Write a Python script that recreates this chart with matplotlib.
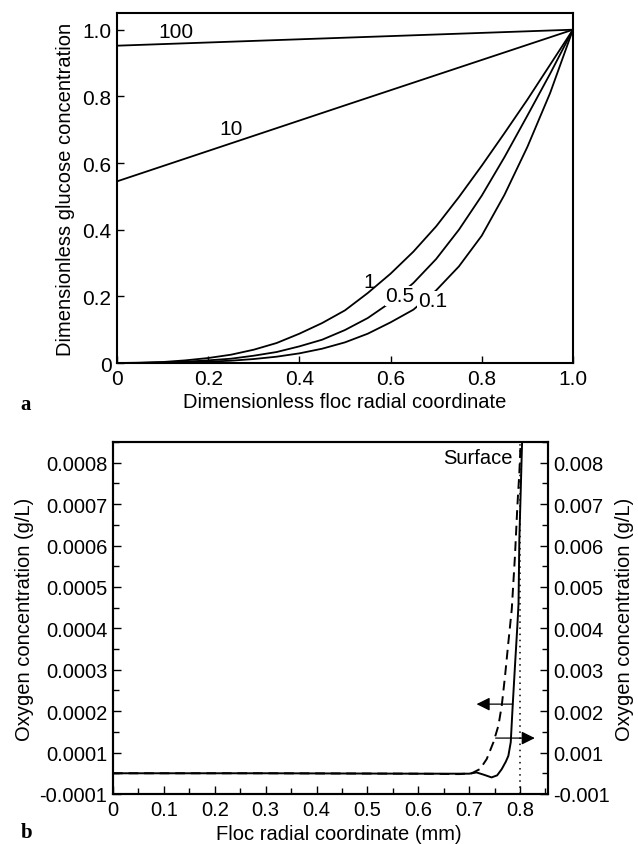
import numpy as np
import matplotlib
matplotlib.use("Agg")
import matplotlib.pyplot as plt
from matplotlib.ticker import FixedLocator, MultipleLocator

plt.rcParams['font.family'] = ['Liberation Sans', 'DejaVu Sans']

# ---- panel a: dimensionless glucose profiles ----
r_grid = [0, 0.05, 0.1, 0.15, 0.2, 0.25, 0.3, 0.35, 0.4, 0.45, 0.5,
          0.55, 0.6, 0.65, 0.7, 0.75, 0.8, 0.85, 0.9, 0.95, 1.0]
c_phi1 = [0, 0.001, 0.003, 0.008, 0.015, 0.025, 0.040, 0.060, 0.088, 0.120, 0.158,
          0.210, 0.268, 0.334, 0.410, 0.498, 0.592, 0.690, 0.790, 0.895, 1.0]
c_phi05 = [0, 0.0005, 0.002, 0.004, 0.008, 0.013, 0.022, 0.033, 0.050, 0.070, 0.099,
           0.135, 0.182, 0.240, 0.312, 0.400, 0.502, 0.618, 0.742, 0.868, 1.0]
c_phi01 = [0, 0.0, 0.001, 0.002, 0.004, 0.007, 0.012, 0.019, 0.029, 0.043, 0.062,
           0.088, 0.122, 0.160, 0.218, 0.290, 0.382, 0.505, 0.648, 0.810, 1.0]
r_line = [0, 0.5, 1.0]
c_phi10 = [0.545, 0.773, 1.0]
c_phi100 = [0.952, 0.976, 1.0]

curve_labels = ['100', '10', '1', '0.5', '0.1']
label_pos = [(0.13, 0.996), (0.25, 0.703), (0.553, 0.245), (0.621, 0.202), (0.692, 0.187)]
label_gap = [False, False, False, True, True]

# ---- panel b: oxygen profiles ----
r_mm_solid = [0, 0.3, 0.6, 0.7, 0.7145, 0.73, 0.744, 0.755, 0.764, 0.772, 0.777,
              0.7817, 0.7855, 0.790, 0.7947, 0.797, 0.7986, 0.8014, 0.803, 0.804]
o2_solid = [0.00005, 0.00005, 0.000049, 0.000049, 0.000052, 0.000046, 0.000040, 0.000045,
            0.000060, 0.000078, 0.000092, 0.000125, 0.000213, 0.000309, 0.000406,
            0.000460, 0.000615, 0.000736, 0.000808, 0.00085]
r_mm_dash = [0, 0.3, 0.6, 0.68, 0.705, 0.7214, 0.7345, 0.7476, 0.7574, 0.764, 0.7705,
             0.777, 0.7837, 0.790, 0.7947, 0.7986, 0.8006, 0.8012]
o2_dash = [0.0005, 0.0005, 0.00049, 0.00048, 0.0005, 0.000603, 0.000844, 0.001247, 0.001647,
           0.00213, 0.00285, 0.00366, 0.00446, 0.00575, 0.00695, 0.00776, 0.00832, 0.0085]

left_ticks = [0, 0.0001, 0.0002, 0.0003, 0.0004, 0.0005, 0.0006, 0.0007, 0.0008]
left_ticklabels = ['-0.0001', '0.0001', '0.0002', '0.0003', '0.0004',
                   '0.0005', '0.0006', '0.0007', '0.0008']
right_ticks = [0, 0.001, 0.002, 0.003, 0.004, 0.005, 0.006, 0.007, 0.008]
right_ticklabels = ['-0.001', '0.001', '0.002', '0.003', '0.004',
                    '0.005', '0.006', '0.007', '0.008']

fs = 15
fig = plt.figure(figsize=(6.38, 8.45), dpi=100)

# panel a
ax = fig.add_axes([0.1834, 0.5692, 0.7146, 0.4142])
for c in [c_phi1, c_phi05, c_phi01]:
    ax.plot(r_grid, c, color='black', lw=1.3)
ax.plot(r_line, c_phi10, color='black', lw=1.3)
ax.plot(r_line, c_phi100, color='black', lw=1.3)
for lab, (x, y), gap in zip(curve_labels, label_pos, label_gap):
    t = ax.text(x, y, lab, fontsize=fs, ha='center', va='center', zorder=5)
    if gap:
        t.set_bbox(dict(facecolor='white', edgecolor='none', pad=0.5))
ax.set_xlim(0, 1.0)
ax.set_ylim(0, 1.05)
ax.set_xticks([0, 0.2, 0.4, 0.6, 0.8, 1.0])
ax.set_xticklabels(['0', '0.2', '0.4', '0.6', '0.8', '1.0'])
ax.set_yticks([0, 0.2, 0.4, 0.6, 0.8, 1.0])
ax.set_yticklabels(['0', '0.2', '0.4', '0.6', '0.8', '1.0'])
ax.tick_params(direction='in', length=5, width=1, labelsize=fs, pad=4)
ax.set_xlabel('Dimensionless floc radial coordinate', fontsize=fs - 0.5, labelpad=3)
ax.set_ylabel('Dimensionless glucose concentration', fontsize=fs - 0.5, labelpad=5)
for s in ax.spines.values():
    s.set_linewidth(1.5)
fig.text(0.032, 0.521, 'a', fontsize=15, fontweight='bold', family='Liberation Serif',
         va='center')

# panel b
bx = fig.add_axes([0.1771, 0.0592, 0.6819, 0.4165])
bx.plot(r_mm_solid, o2_solid, color='black', lw=1.4)
bx.axvline(0.8, color='black', ls=(0, (1, 3)), lw=1.1)
bx.set_xlim(0, 0.855)
bx.set_ylim(0, 0.00085)
bx.yaxis.set_major_locator(FixedLocator(left_ticks))
bx.set_yticklabels(left_ticklabels)
bx.yaxis.set_minor_locator(MultipleLocator(0.00005))
bx.set_xticks([0, 0.1, 0.2, 0.3, 0.4, 0.5, 0.6, 0.7, 0.8])
bx.set_xticklabels(['0', '0.1', '0.2', '0.3', '0.4', '0.5', '0.6', '0.7', '0.8'])
bx.xaxis.set_minor_locator(MultipleLocator(0.05))
bx.tick_params(which='major', direction='in', length=6, width=1, labelsize=fs - 0.5, pad=4)
bx.tick_params(which='minor', direction='in', length=4, width=1)
bx.set_xlabel('Floc radial coordinate (mm)', fontsize=fs - 0.5, labelpad=2)
bx.xaxis.set_label_coords(0.52, -0.085)
bx.set_ylabel('Oxygen concentration (g/L)', fontsize=fs - 0.5, labelpad=4)
bx.text(0.786, 0.000813, 'Surface', fontsize=fs - 0.5, ha='right', va='center')
bx.annotate('', xy=(0.7145, 0.000217), xytext=(0.786, 0.000217),
            arrowprops=dict(arrowstyle='-|>', color='black', lw=0.9,
                            mutation_scale=20, shrinkA=0, shrinkB=0))
bx.annotate('', xy=(0.829, 0.000135), xytext=(0.752, 0.000135),
            arrowprops=dict(arrowstyle='-|>', color='black', lw=0.9,
                            mutation_scale=20, shrinkA=0, shrinkB=0))
for s in bx.spines.values():
    s.set_linewidth(1.5)

bx2 = bx.twinx()
bx2.plot(r_mm_dash, o2_dash, color='black', lw=1.4, ls=(0, (5, 3)))
bx2.set_ylim(0, 0.0085)
bx2.yaxis.set_major_locator(FixedLocator(right_ticks))
bx2.set_yticklabels(right_ticklabels)
bx2.yaxis.set_minor_locator(MultipleLocator(0.0005))
bx2.tick_params(which='major', direction='in', length=6, width=1, labelsize=fs - 0.5, pad=4)
bx2.tick_params(which='minor', direction='in', length=4, width=1)
bx2.set_ylabel('Oxygen concentration (g/L)', fontsize=fs - 0.5, labelpad=3)
for s in bx2.spines.values():
    s.set_linewidth(1.5)
fig.text(0.032, 0.014, 'b', fontsize=15, fontweight='bold', family='Liberation Serif',
         va='center')

fig.savefig('out.png', dpi=100)
